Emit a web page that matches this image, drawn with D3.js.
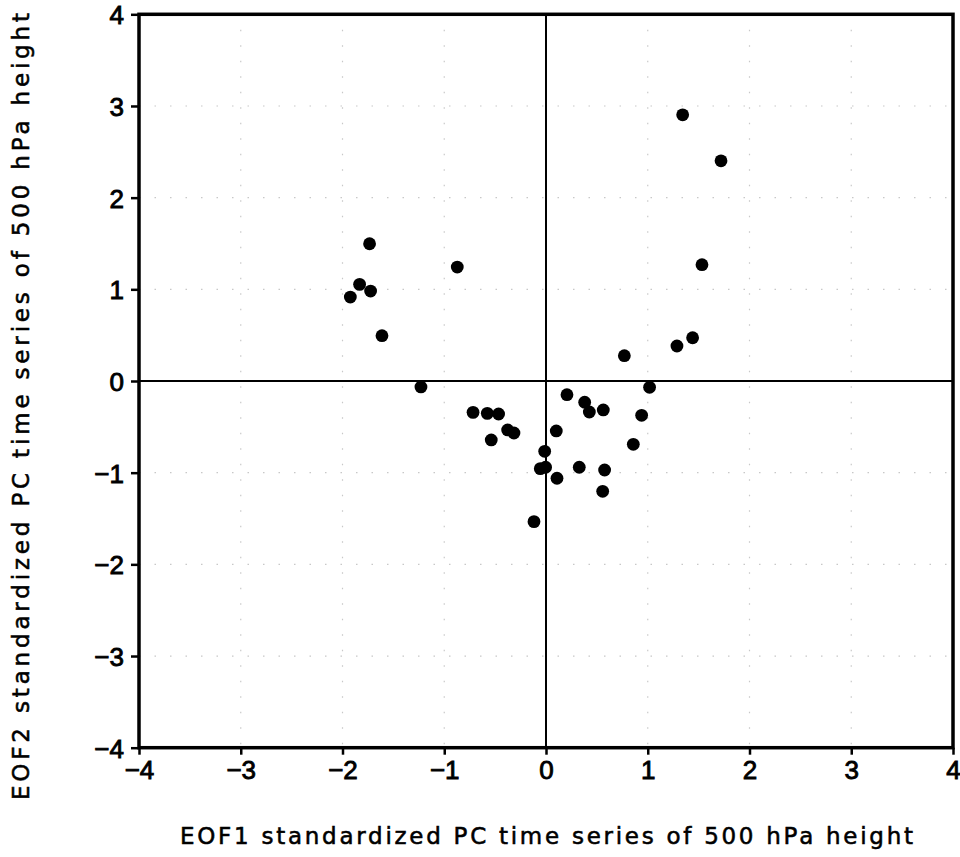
<!DOCTYPE html>
<html>
<head>
<meta charset="utf-8">
<script src="https://cdn.jsdelivr.net/npm/d3@7"></script>
<style>
  body { margin: 0; background: #fff; }
  svg text { font-family: "Liberation Sans", "DejaVu Sans", sans-serif; fill: #000; stroke: #000; stroke-width: 0.9px; }
  svg text.title { font-family: "DejaVu Sans", sans-serif; stroke-width: 0.55px; }
</style>
</head>
<body>
<svg id="scatter" width="960" height="857"></svg>
<script>
// EOF1 / EOF2 standardized PC values, one per year
var eof1 = [-1.734, -1.832, -1.724, -1.923, -1.612, -1.229, -0.872,
    -0.717, -0.577, -0.466, -0.377, -0.315, -0.538, -0.013, -0.056, -0.004,
    0.108, -0.118, 0.101, 0.206, 0.380, 0.426, 0.563, 0.327, 0.576, 0.557,
    0.858, 0.940, 1.018, 0.770, 1.287, 1.441, 1.533, 1.720, 1.343];
var eof2 = [1.497, 1.054, 0.981, 0.916, 0.494, -0.065, 1.243,
    -0.342, -0.353, -0.360, -0.534, -0.567, -0.643, -0.767, -0.956, -0.941,
    -1.061, -1.534, -0.545, -0.149, -0.232, -0.338, -0.316, -0.941, -0.971, -1.203,
    -0.691, -0.374, -0.069, 0.276, 0.382, 0.472, 1.269, 2.402, 2.904];

var ticks = [-4, -3, -2, -1, 0, 1, 2, 3, 4];
var xTitle = "EOF1 standardized PC time series of 500 hPa height";
var yTitle = "EOF2 standardized PC time series of 500 hPa height";

var svg = d3.select("#scatter");
var pLeft = 139, pRight = 953, pTop = 14.3, pBottom = 747.7;

var x = d3.scaleLinear().domain([-4, 4]).range([pLeft, pRight]);
var y = d3.scaleLinear().domain([-4, 4]).range([pBottom, pTop]);

// dotted grid
var grid = svg.append("g")
    .attr("stroke", "#c8c8c8")
    .attr("stroke-width", 1.2)
    .attr("stroke-dasharray", "1.5,14");
grid.selectAll(".gx")
    .data(ticks)
    .enter()
    .append("line")
    .attr("x1", function (d) { return x(d); })
    .attr("x2", function (d) { return x(d); })
    .attr("y1", pTop)
    .attr("y2", pBottom);
grid.selectAll(".gy")
    .data(ticks)
    .enter()
    .append("line")
    .attr("y1", function (d) { return y(d); })
    .attr("y2", function (d) { return y(d); })
    .attr("x1", pLeft)
    .attr("x2", pRight);

// zero lines
svg.append("line")
    .attr("x1", x(0)).attr("x2", x(0))
    .attr("y1", pTop).attr("y2", pBottom)
    .attr("stroke", "#000").attr("stroke-width", 2);
svg.append("line")
    .attr("y1", y(0)).attr("y2", y(0))
    .attr("x1", pLeft).attr("x2", pRight)
    .attr("stroke", "#000").attr("stroke-width", 2);

// axes
var xAxis = svg.append("g")
    .attr("transform", "translate(0," + pBottom + ")")
    .call(d3.axisBottom(x).tickValues(ticks).tickSize(7).tickFormat(d3.format("d")));
xAxis.select(".domain").remove();
xAxis.selectAll(".tick line").attr("stroke-width", 2.5);
xAxis.selectAll(".tick text")
    .attr("y", 31).attr("dy", 0)
    .style("font-size", "26px");

var yAxis = svg.append("g")
    .attr("transform", "translate(" + pLeft + ",0)")
    .call(d3.axisLeft(y).tickValues(ticks).tickSize(8).tickFormat(d3.format("d")));
yAxis.select(".domain").remove();
yAxis.selectAll(".tick line").attr("stroke-width", 2.5);
yAxis.selectAll(".tick text")
    .attr("x", -15)
    .attr("dy", "0.36em")
    .style("font-size", "26px");

// frame
svg.append("rect")
    .attr("x", pLeft).attr("y", pTop)
    .attr("width", pRight - pLeft).attr("height", pBottom - pTop)
    .attr("fill", "none")
    .attr("stroke", "#000")
    .attr("stroke-width", 3.5);

// points
svg.append("g")
    .selectAll("circle")
    .data(eof1)
    .enter()
    .append("circle")
    .attr("cx", function (d) { return x(d); })
    .attr("cy", function (d, i) { return y(eof2[i]); })
    .attr("r", 6.4)
    .attr("fill", "#000");

// axis titles
svg.append("text")
    .attr("class", "title")
    .attr("x", 180).attr("y", 844)
    .attr("textLength", 733)
    .attr("lengthAdjust", "spacing")
    .style("font-size", "23px")
    .text(xTitle);

svg.append("text")
    .attr("class", "title")
    .attr("transform", "translate(29,800) rotate(-90)")
    .attr("textLength", 787)
    .attr("lengthAdjust", "spacing")
    .style("font-size", "23px")
    .text(yTitle);
</script>
</body>
</html>
